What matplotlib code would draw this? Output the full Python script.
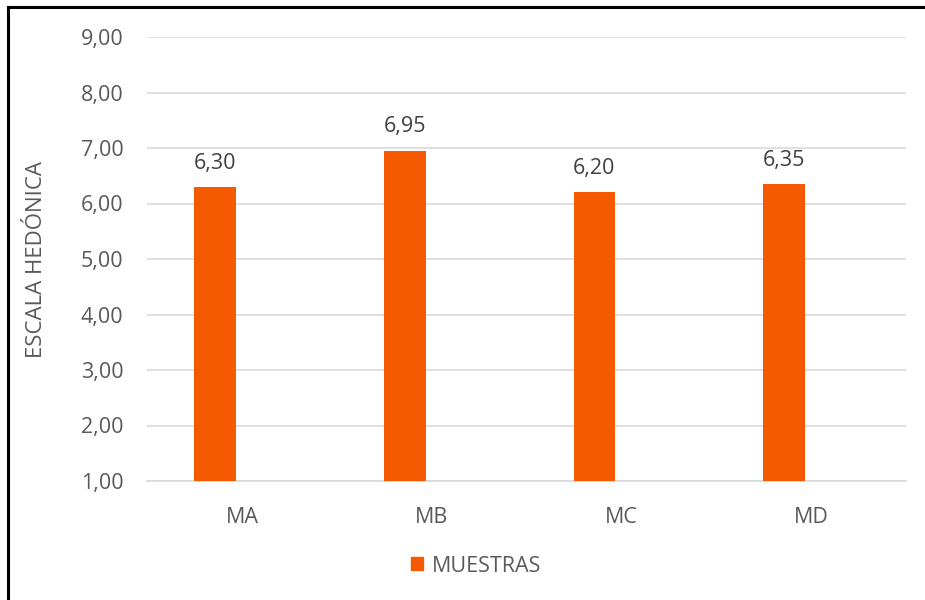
import matplotlib.pyplot as plt
from matplotlib.lines import Line2D
from matplotlib.patches import Patch
import numpy as np

plt.rcParams['font.family'] = ['Open Sans', 'DejaVu Sans']

categories = ['MA', 'MB', 'MC', 'MD']
values = [6.30, 6.95, 6.20, 6.35]
yticks = [1, 2, 3, 4, 5, 6, 7, 8, 9]

BAR_COLOR = '#F55A00'
GRID = '#D9D9D9'
TEXT = '#595959'
FS = 15.5

def fmt(v):
    return f'{v:.2f}'.replace('.', ',')

fig = plt.figure(figsize=(9.25, 6), dpi=100)
ax = fig.add_axes([147/925, 1 - 481/600, (906 - 147)/925, (481 - 37)/600])

x = np.arange(len(categories))
# bars sit left of the category centre (empty second series slot)
bars = ax.bar(x - 0.142, np.array(values) - 1, width=0.22, bottom=1,
              color=BAR_COLOR, zorder=3)
for xi, v in zip(x, values):
    ax.text(xi - 0.142, v + 0.24, fmt(v), ha='center', va='bottom',
            fontsize=FS, color='#404040')

ax.set_xlim(-0.5, 3.5)
ax.set_ylim(1, 9)
ax.set_yticks(yticks)
ax.set_yticklabels([fmt(t) for t in yticks])
ax.set_xticks(x)
ax.set_xticklabels(categories)
ax.tick_params(axis='both', length=0, labelsize=FS, labelcolor=TEXT)
ax.tick_params(axis='y', pad=17)
ax.tick_params(axis='x', pad=19)
ax.yaxis.grid(True, color=GRID, linewidth=1.2, zorder=0)
for s in ['top', 'right', 'left']:
    ax.spines[s].set_visible(False)
ax.spines['bottom'].set_color(GRID)
ax.spines['bottom'].set_linewidth(1.2)

fig.text(37/925, 1 - 259/600, 'ESCALA HEDÓNICA', rotation=90, ha='center',
         va='center', fontsize=16, color=TEXT)

fig.legend(handles=[Patch(color=BAR_COLOR, label='MUESTRAS')],
           loc='center', bbox_to_anchor=(476/925, 1 - 566/600), frameon=False,
           fontsize=FS, labelcolor=TEXT, handlelength=0.55, handleheight=0.55,
           handletextpad=0.4)

# chart frame (left and top edges)
fig.add_artist(Line2D([8/925, 8/925], [0, 1 - 7/600], color='black', linewidth=2.2))
fig.add_artist(Line2D([8/925, 1], [1 - 7/600, 1 - 7/600], color='black', linewidth=2.2))

fig.savefig('out.png', dpi=100)
